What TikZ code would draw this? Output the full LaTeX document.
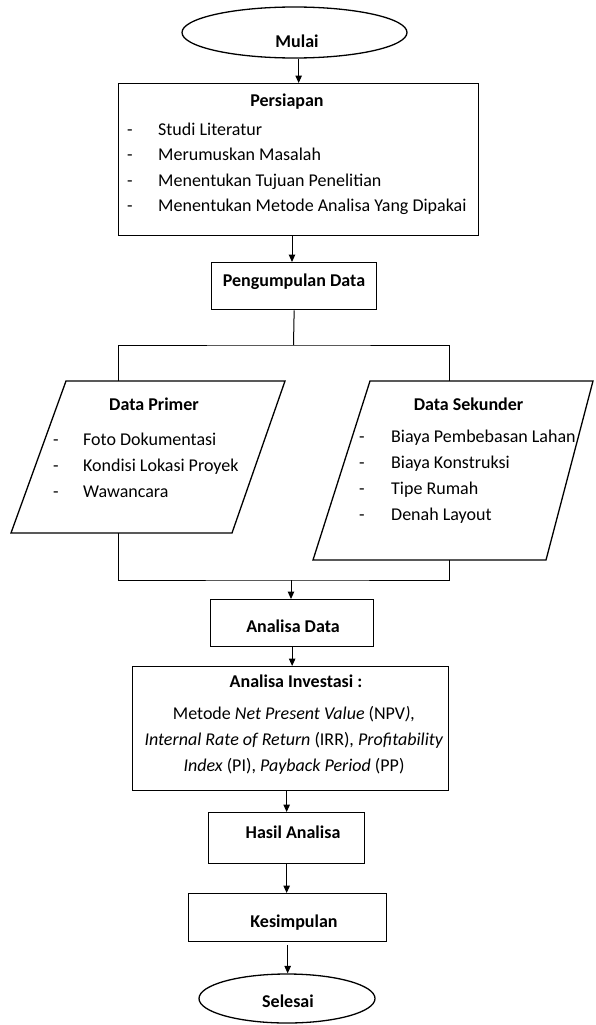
\documentclass[tikz,border=0pt]{standalone}
\usepackage{fontspec}
\setmainfont{Carlito}
\usetikzlibrary{shapes.geometric,arrows.meta}
\begin{document}
\begin{tikzpicture}[x=1pt,y=-1pt,
  box/.style={draw,line width=1.3pt,rectangle,inner sep=0pt,anchor=north west},
  term/.style={draw,line width=1.3pt,ellipse,inner sep=0pt},
  txt/.style={anchor=base,inner sep=0pt,font=\fontsize{18}{22}\selectfont},
  ttl/.style={anchor=base,inner sep=0pt,font=\fontsize{18}{22}\selectfont\bfseries},
  lft/.style={anchor=base west,inner sep=0pt,font=\fontsize{18}{22}\selectfont},
  dsh/.style={anchor=base,inner sep=0pt,font=\fontsize{18}{22}\selectfont},
  conn/.style={line width=1pt},
  arr/.style={line width=1pt,-{Triangle[length=7.5pt,width=6.5pt]}}]
\useasboundingbox[fill=white] (0,0) rectangle (595,1025);

% terminals
\node[term,minimum width=225pt,minimum height=51pt] (mulai) at (294.5,32.5) {};
\node[ttl] (tmulai) at (297,48) {Mulai};
\node[term,minimum width=176pt,minimum height=49pt] (selesai) at (287,998.5) {};
\node[ttl] (tselesai) at (288,1007) {Selesai};

% Persiapan
\node[box,minimum width=360pt,minimum height=152pt] (persiapan) at (118,83) {};
\node[ttl] (tpers) at (287,106) {Persiapan};
\foreach \y/\t [count=\i] in {135/Studi Literatur,160.5/Merumuskan Masalah,186/Menentukan Tujuan Penelitian,211.5/Menentukan Metode Analisa Yang Dipakai}{
  \node[dsh] (pd\i) at (130,\y) {-};
  \node[lft] (pt\i) at (158,\y) {\t};
}

% Pengumpulan Data
\node[box,minimum width=165pt,minimum height=47pt] (kumpul) at (211,262) {};
\node[ttl] (tkumpul) at (294,286) {Pengumpulan Data};

% Data Primer parallelogram
\coordinate (p1) at (66,381); \coordinate (p2) at (285,381);
\coordinate (p3) at (232,533); \coordinate (p4) at (11,533);
\draw[line width=1.3pt,line join=miter] (p1) -- (p2) -- (p3) -- (p4) -- cycle;
\coordinate (primTop) at (118,381); \coordinate (primBot) at (118,533);
\node[ttl] (tprim) at (154,410) {Data Primer};
\foreach \y/\t [count=\i] in {445/Foto Dokumentasi,471/Kondisi Lokasi Proyek,497/Wawancara}{
  \node[dsh] (ad\i) at (56,\y) {-};
  \node[lft] (at\i) at (83,\y) {\t};
}

% Data Sekunder parallelogram
\coordinate (s1) at (370,381); \coordinate (s2) at (593,381);
\coordinate (s3) at (546,560); \coordinate (s4) at (313,560);
\draw[line width=1.3pt,line join=miter] (s1) -- (s2) -- (s3) -- (s4) -- cycle;
\coordinate (sekTop) at (449,381); \coordinate (sekBot) at (449,560);
\node[ttl] (tsek) at (468.5,410) {Data Sekunder};
\foreach \y/\t [count=\i] in {442/Biaya Pembebasan Lahan,468/Biaya Konstruksi,494/Tipe Rumah,520/Denah Layout}{
  \node[dsh] (sd\i) at (362,\y) {-};
  \node[lft] (st\i) at (391,\y) {\t};
}

% Analisa Data
\node[box,minimum width=163pt,minimum height=47pt] (adata) at (210,599) {};
\node[ttl] (tadata) at (293,632) {Analisa Data};

% Analisa Investasi
\node[box,minimum width=316pt,minimum height=124pt] (inv) at (132,666) {};
\node[ttl] (tinv) at (296,687) {Analisa Investasi :};
\node[txt] (inv1) at (294,719) {Metode \textit{Net Present Value} (NPV\textit{),}};
\node[txt] (inv2) at (294,745) {\textit{Internal Rate of Return} (IRR), \textit{Profitability}};
\node[txt] (inv3) at (294,771) {\textit{Index} (PI), \textit{Payback Period} (PP)};

% Hasil Analisa
\node[box,minimum width=156pt,minimum height=51pt] (hasil) at (208,812) {};
\node[ttl] (thasil) at (293,838) {Hasil Analisa};

% Kesimpulan
\node[box,minimum width=198pt,minimum height=48pt] (kes) at (188,893) {};
\node[ttl] (tkes) at (294,927) {Kesimpulan};

% connectors
\coordinate (jtop) at (293.5,345);
\coordinate (jbot) at (291,580);
\draw[arr] (persiapan.north |- mulai.south) -- (persiapan.north);
\draw[arr] (292,235) coordinate (pb) -- (pb |- kumpul.north);
\draw[conn] (kumpul.south) -- (jtop);
\draw[conn] (primTop) |- (jtop) -| (sekTop);
\draw[conn] (primBot) |- (jbot) -| (sekBot);
\draw[arr] (jbot) -- (jbot |- adata.north);
\draw[arr] (adata.south) -- (adata.south |- inv.north);
\draw[arr] (hasil.north |- inv.south) -- (hasil.north);
\draw[arr] (hasil.south) -- (hasil.south |- kes.north);
\draw[arr] (kes.south) ++(0,3) coordinate (ks) -- (ks |- selesai.north);
\end{tikzpicture}
\end{document}
